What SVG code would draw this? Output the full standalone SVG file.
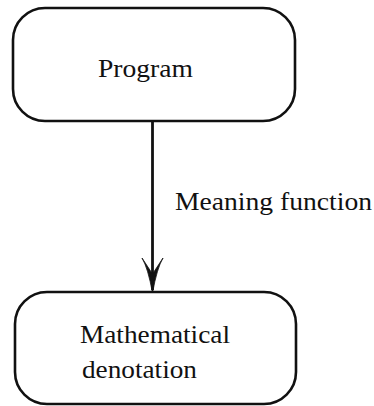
<svg xmlns="http://www.w3.org/2000/svg" width="374" height="406" viewBox="0 0 374 406">
<style>
.box{fill:#fff;stroke:#111;stroke-width:2.6}
.t{font-family:"Liberation Serif","Times New Roman",serif;font-size:26px;fill:#111}
.edge{stroke:#111;stroke-width:2.8;fill:none}
</style>
<rect width="374" height="406" fill="#fff"/>
<g id="connectors">
<path class="edge" d="M152.5,121 L152.5,290"/>
<path d="M142,258 Q148,268 152.5,293 Q157,268 163,258 L152.5,274 Z" fill="#111" stroke="#111" stroke-width="0.8"/>
<text class="t" x="175" y="210" textLength="197" lengthAdjust="spacingAndGlyphs">Meaning function</text>
</g>
<g id="program">
<rect class="box" x="13" y="8" width="282" height="113" rx="32" ry="32"/>
<text class="t" x="98" y="77" textLength="95" lengthAdjust="spacingAndGlyphs">Program</text>
</g>
<g id="denotation">
<rect class="box" x="15" y="292" width="281" height="112" rx="32" ry="32"/>
<text class="t" x="80" y="343" textLength="150" lengthAdjust="spacingAndGlyphs">Mathematical</text>
<text class="t" x="82" y="378" textLength="115" lengthAdjust="spacingAndGlyphs">denotation</text>
</g>
</svg>
